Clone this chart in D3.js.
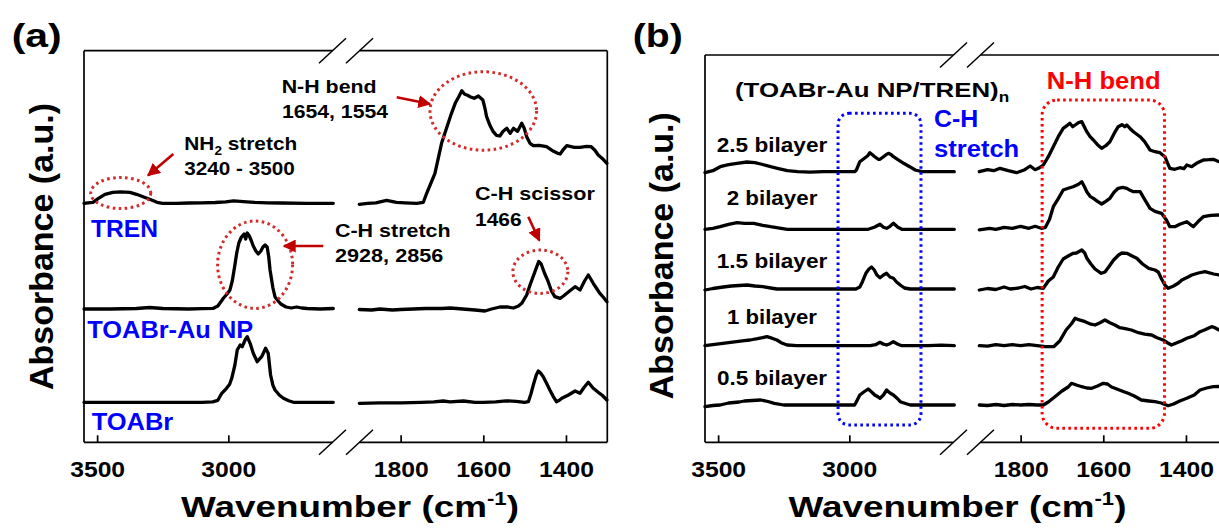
<!DOCTYPE html>
<html>
<head>
<meta charset="utf-8">
<script src="https://cdn.jsdelivr.net/npm/d3@7"></script>
<style>
  html, body { margin: 0; padding: 0; background: #fff; }
  svg { display: block; }
  text { font-family: "Liberation Sans", Arial, sans-serif; font-weight: bold; }
</style>
</head>
<body>
<svg id="chart" width="1219" height="529"></svg>
<script>
// ---------- data: FTIR spectra, [wavenumber (cm-1), absorbance (a.u.)] ----------
// Two wavenumber windows: 3550-2600 and 1900-1300 cm-1 (axis break in between).
const ticksHigh = [3500, 3000];
const ticksLow = [1800, 1600, 1400];

// Panel (a): reference spectra
const specNames = ["TREN", "TOABr-Au NP", "TOABr"];
const specOffsets = [239, 133.3, 40];
const trenSpec = [
  [3550,0],[3535,0.5],[3516,1],[3495,5],[3470,9],[3440,11],[3410,11.5],[3375,11],[3350,9],[3320,6],[3290,3],[3272,1],[3250,0],[3200,0],[3150,0.3],[3100,0.5],[3050,0.8],[3010,1.5],[2980,2.5],[2955,2],[2930,1.5],[2900,1],[2850,0.5],[2800,0.3],[2700,0],[2600,0],
  [1900,-1],[1880,0],[1860,0.5],[1834,3],[1810,1],[1790,0.5],[1761,0],[1745,1],[1737,10],[1727,20],[1717,30],[1709,45],[1701,60],[1693,70],[1685,80],[1677,90],[1668,100],[1660,106],[1652,112.6],[1645,109],[1638,108],[1632,106.6],[1622,105],[1612,107.3],[1601,103.3],[1596,95],[1592,86.6],[1584,78],[1576,71.6],[1568,68],[1560,67.3],[1552,72],[1543,75],[1535,70],[1527,75],[1517,72],[1507,80],[1501,75],[1495,66.6],[1487,60],[1479,57.6],[1465,58],[1447,56.6],[1430,52],[1420,50],[1414,49.3],[1406,54],[1398,57.6],[1380,56],[1366,56],[1350,57],[1339,56.6],[1330,53],[1322,48.3],[1310,44],[1301,40]
];
const npSpec = [
  [3550,0],[3450,0],[3350,0.5],[3300,1.5],[3250,0.5],[3150,0],[3100,0.3],[3057,0.7],[3040,3],[3019,10.7],[3005,15],[2994,19],[2985,28],[2975,44],[2968,56],[2960,66],[2950,72],[2940,75],[2934,70],[2928,76],[2920,73],[2912,68],[2905,63],[2895,58],[2886,55],[2876,58],[2868,62],[2860,64],[2852,62],[2846,52],[2841,39],[2830,21],[2822,12],[2810,8],[2800,5],[2780,2],[2760,1],[2740,2],[2720,1],[2700,0.5],[2650,0],[2600,0.5],
  [1900,-0.5],[1870,-1],[1850,0],[1820,-1],[1800,-0.5],[1770,0],[1740,0.5],[1700,0.5],[1680,1],[1650,0],[1620,-1],[1596,-2],[1580,0],[1560,2],[1540,2],[1527,1],[1515,3],[1507,5.7],[1495,14],[1487,24],[1475,37.3],[1466,47.5],[1460,45],[1452,36],[1443,27.3],[1435,18],[1427,12.3],[1414,10.7],[1406,13],[1398,15.7],[1385,20],[1378,22.3],[1366,19],[1355,28],[1346,34],[1340,30],[1334,25.7],[1325,20],[1318,15.7],[1310,12],[1301,7.3]
];
const toabrSpec = [
  [3550,0],[3300,0],[3100,0],[3060,0.5],[3040,2],[3025,9],[3007,14],[2995,18],[2987,24],[2975,37.3],[2966,52.3],[2955,57.3],[2947,55.6],[2936,62.3],[2928,65.6],[2917,59],[2905,49],[2890,40.6],[2873,45.6],[2858,54],[2848,49],[2839,27.3],[2830,17],[2822,12.3],[2805,7],[2790,4],[2770,1.5],[2752,0],[2650,0],[2600,0],
  [1900,-1],[1850,-0.5],[1800,-0.5],[1750,0],[1720,0.5],[1697,1.3],[1680,0.5],[1648,1.3],[1620,0],[1600,0],[1570,0.5],[1545,1.5],[1520,1],[1500,0],[1491,0.6],[1485,8],[1479,17.3],[1472,27],[1467,31.3],[1461,29],[1455,25.6],[1447,19],[1439,12.3],[1431,6],[1423,0.6],[1416,2],[1410,4],[1394,7.3],[1378,11.3],[1366,9],[1356,15],[1346,20],[1340,17],[1334,14],[1322,10],[1313,7.3],[1301,2.3]
];

// Panel (b): (TOABr-Au NP/TREN)n multilayers
const layerNames = ["2.5 bilayer", "2 bilayer", "1.5 bilayer", "1 bilayer", "0.5 bilayer"];
const layerOffsets = [270.6, 213, 153.3, 96.6, 37.3];
const bl25 = [
  [3550,-1],[3520,1],[3492,5],[3460,7],[3428,8.4],[3390,9.7],[3360,9],[3338,7.7],[3300,5],[3274,3.4],[3236,1],[3197,0],[3150,-0.5],[3100,0],[3050,0],[3000,0],[2980,0],[2973,1.7],[2960,10],[2945,13],[2930,16],[2922,19],[2912,17],[2903,15],[2890,12.4],[2883,12.4],[2870,15],[2860,17],[2851,18.4],[2840,17],[2832,15],[2815,12],[2793,8.4],[2770,5],[2749,1.7],[2723,0],[2650,0],[2600,0],
  [1900,0],[1880,2],[1865,1],[1850,3.4],[1830,1],[1810,-1],[1790,2],[1777,5.7],[1765,2],[1757,3.4],[1745,6.7],[1733,15],[1721,25],[1709,35],[1697,43.4],[1688,46],[1681,48.4],[1674,45],[1668,46.7],[1660,49],[1652,50],[1646,45],[1640,40],[1632,35],[1624,31.7],[1614,27],[1604,23.4],[1594,26],[1584,30],[1574,38],[1564,45],[1555,47],[1548,45],[1543,46.7],[1535,43],[1527,40],[1511,35],[1500,30],[1487,21.7],[1475,20],[1463,19],[1451,15],[1445,9],[1439,3.4],[1427,2.4],[1415,4],[1405,3],[1398,6.7],[1386,5],[1372,9],[1358,11.7],[1345,12],[1334,12.4],[1320,10],[1300,10]
];
const bl20 = [
  [3550,0],[3520,1],[3492,2.6],[3460,5],[3428,6.6],[3400,6],[3364,6],[3330,4],[3300,2.6],[3260,1],[3236,0],[3150,0],[3050,0],[2950,0],[2928,0],[2905,2],[2883,5],[2870,2],[2858,1],[2845,3],[2832,6],[2815,2],[2800,0],[2700,0],[2600,0],
  [1900,-0.5],[1875,1],[1860,0],[1840,2],[1820,1],[1800,3],[1780,1],[1765,3],[1750,1],[1740,2],[1730,10],[1721,22.6],[1710,30],[1697,39.3],[1685,41],[1673,42.6],[1660,45],[1652,47.6],[1645,42],[1640,37.6],[1632,33],[1624,31],[1614,28],[1604,25.3],[1594,28],[1584,31],[1574,37],[1564,41],[1553,42],[1543,41],[1535,39],[1527,37.6],[1511,37.6],[1500,30],[1487,21],[1475,18],[1459,16],[1447,9],[1439,2.6],[1427,2.6],[1415,5],[1398,7.6],[1390,5],[1382,2.6],[1370,8],[1358,12.6],[1340,14],[1320,14.3],[1300,14]
];
const bl15 = [
  [3550,-1],[3520,0.5],[3480,2],[3450,3],[3420,3.5],[3390,4],[3360,3],[3330,2.3],[3300,1],[3276,0],[3200,0],[3100,0],[3000,0],[2975,0],[2960,2],[2950,7.3],[2937,15.7],[2925,20],[2915,22],[2905,19],[2895,14],[2883,11.3],[2870,14],[2858,15.7],[2845,12],[2832,10.7],[2820,7],[2806,4],[2790,1],[2768,0],[2700,0],[2600,0],
  [1900,-1],[1880,0.5],[1860,-0.5],[1840,2],[1825,0],[1805,1],[1790,2.5],[1775,0],[1760,1.5],[1745,0.7],[1733,8],[1721,12],[1709,22],[1697,30],[1685,33],[1673,35.7],[1665,36],[1652,39],[1645,36],[1640,31],[1630,25],[1620,20],[1605,15.7],[1596,17],[1587,22],[1575,29],[1563,34],[1555,36],[1543,35.7],[1535,34],[1519,30.7],[1505,25],[1490,20.7],[1475,19],[1467,17],[1459,10],[1451,4],[1443,0.7],[1430,3],[1418,6],[1410,9],[1395,12],[1386,14],[1370,16],[1354,17.3],[1333,15],[1320,14],[1300,14]
];
const bl10 = [
  [3550,0],[3520,1],[3490,2],[3460,3],[3430,4],[3400,5],[3378,5.7],[3350,7],[3314,9],[3295,7.5],[3276,5.7],[3260,3],[3237,0.7],[3200,0],[3100,0],[3000,0],[2950,0],[2920,0],[2900,1],[2883,3.4],[2870,1.5],[2858,0.7],[2845,2],[2832,4],[2815,1.5],[2800,0],[2700,0],[2650,0.5],[2600,0],
  [1900,0],[1880,-0.5],[1860,1],[1840,0],[1820,1],[1800,0],[1780,1],[1760,0],[1740,-1],[1720,-1],[1705,5],[1690,15.7],[1677,22],[1668,27.4],[1660,26],[1644,24],[1630,21.5],[1620,20.7],[1608,23],[1596,25.7],[1584,23],[1572,20.7],[1560,18],[1547,17],[1532,15.7],[1515,13],[1500,11.5],[1483,10.7],[1470,8],[1455,5.7],[1445,3],[1435,0.7],[1422,3],[1410,5],[1398,7.4],[1380,10],[1366,14],[1354,16],[1338,19],[1330,18],[1320,15.7],[1300,14]
];
const bl05 = [
  [3550,-1.7],[3520,-0.5],[3492,0],[3460,2],[3420,3],[3400,4],[3370,4.5],[3338,5],[3310,3.5],[3286,1.7],[3250,0],[3200,0],[3100,0],[3000,0],[2980,0],[2973,3.3],[2960,10],[2945,13],[2928,16],[2915,13],[2903,10],[2890,8],[2883,6.7],[2870,10],[2858,15],[2845,12],[2832,10],[2815,6],[2806,3.3],[2780,1],[2768,0],[2700,0],[2600,0],
  [1900,0],[1880,-0.5],[1860,0.5],[1840,-0.5],[1820,0.5],[1800,0],[1780,0.5],[1760,0],[1745,0],[1733,3],[1717,8.3],[1700,14],[1685,18],[1677,21.7],[1665,20],[1652,18.3],[1640,17],[1628,16.7],[1614,19],[1600,21.7],[1590,21],[1580,18],[1572,16.7],[1555,14],[1540,11.7],[1525,9],[1508,5],[1490,4],[1475,3.3],[1460,2],[1443,-0.7],[1430,1],[1415,4],[1398,6.7],[1380,10],[1366,15],[1350,17],[1334,18.3],[1320,18.5],[1300,18.5]
];

// ---------- drawing ----------
const svg = d3.select("#chart");
const INK = "#000";
const DARKRED = "#c00000";

// Text whose glyphs are widened horizontally to a given overall width.
function label(g, parts, x, y, size, width, opts = {}) {
  const grp = g.append("g").attr("transform", `translate(${x},${y})`);
  const t = grp.append("text")
    .attr("font-size", size)
    .attr("text-anchor", opts.anchor || "start")
    .attr("fill", opts.color || INK);
  (Array.isArray(parts) ? parts : [{ s: parts }]).forEach(p => {
    const ts = t.append("tspan").text(p.s);
    if (p.size) ts.attr("font-size", p.size);
    if (p.dy) ts.attr("dy", p.dy);
  });
  if (width) {
    const w = t.node().getComputedTextLength();
    t.attr("transform", `scale(${width / w},1)`);
  }
  return grp;
}

function panel(cfg) {
  const g = svg.append("g");
  const xHi = d3.scaleLinear().domain([3550, 2600]).range([cfg.left, cfg.left + 249.3]);
  const xLo = d3.scaleLinear().domain([1900, 1300]).range([cfg.lowStart, cfg.lowStart + 248]);
  const y = d3.scaleLinear().domain([0, cfg.bottom - cfg.top]).range([cfg.bottom, cfg.top]);

  // frame with axis-break marks
  const br1 = cfg.left + 248.5, br2 = cfg.left + 275.5;
  const fr = g.append("g").attr("stroke", INK).attr("stroke-width", 1.7).attr("fill", "none");
  fr.append("line").attr("x1", cfg.left).attr("x2", cfg.left).attr("y1", cfg.top).attr("y2", cfg.bottom);
  fr.append("line").attr("x1", cfg.right).attr("x2", cfg.right).attr("y1", cfg.top).attr("y2", cfg.bottom);
  [cfg.top, cfg.bottom].forEach(yy => {
    fr.append("line").attr("x1", cfg.left).attr("x2", br1).attr("y1", yy).attr("y2", yy);
    fr.append("line").attr("x1", br2).attr("x2", cfg.right).attr("y1", yy).attr("y2", yy);
    [br1, br2].forEach(bx => {
      fr.append("line").attr("x1", bx - 13.5).attr("y1", yy + 12.5).attr("x2", bx + 13.5).attr("y2", yy - 12.5).attr("stroke-width", 1.5);
    });
  });

  // axes (inward ticks, labels below)
  const styleAxis = sel => {
    sel.select(".domain").remove();
    sel.selectAll(".tick line").attr("stroke", INK).attr("stroke-width", 1.7);
    sel.selectAll(".tick text")
      .attr("fill", INK)
      .attr("font-size", 21.5)
      .attr("font-family", "'Liberation Sans', Arial, sans-serif")
      .attr("font-weight", "bold")
      .attr("transform", "scale(1.15,1)");
  };
  g.append("g").attr("transform", `translate(0,${cfg.bottom})`)
    .call(d3.axisBottom(xHi).tickValues(ticksHigh).tickSize(-7).tickPadding(19.5).tickFormat(d3.format("d")))
    .call(styleAxis);
  g.append("g").attr("transform", `translate(0,${cfg.bottom})`)
    .call(d3.axisBottom(xLo).tickValues(ticksLow).tickSize(-7).tickPadding(19.5).tickFormat(d3.format("d")))
    .call(styleAxis);

  // spectra, each split into its two wavenumber windows
  const lineHi = d3.line().x(d => xHi(d[0])).y(d => y(d[1]));
  const lineLo = d3.line().x(d => xLo(d[0])).y(d => y(d[1]));
  cfg.series.forEach((s, i) => {
    const pts = s.map(d => [d[0], d[1] + cfg.offsets[i]]);
    const hi = pts.filter(d => d[0] >= 2600);
    const lo = pts.filter(d => d[0] <= 1900);
    [[hi, lineHi], [lo, lineLo]].forEach(([p, ln]) => {
      g.append("path").attr("d", ln(p)).attr("fill", "none")
        .attr("stroke", INK).attr("stroke-width", 3.3).attr("stroke-linejoin", "round").attr("stroke-linecap", "round");
    });
  });

  // titles
  label(g, [{ s: "Wavenumber (cm" }, { s: "-1", size: 18, dy: -12 }, { s: ")", size: 30, dy: 12 }],
        cfg.xTitle, 516.7, 30, 338, { anchor: "middle" });
  const yt = g.append("g").attr("transform", `translate(${cfg.yTitleX},${cfg.yTitleY}) rotate(-90)`);
  yt.append("text").attr("font-size", 34).attr("text-anchor", "middle").attr("fill", INK).text("Absorbance (a.u.)");
  label(g, cfg.tag, cfg.tagX, 46.7, 34, 50);

  return { g, xHi, xLo, y };
}

// arrowhead marker
svg.append("defs").append("marker")
  .attr("id", "arrow").attr("viewBox", "0 0 10 10").attr("refX", 9).attr("refY", 5)
  .attr("markerWidth", 5).attr("markerHeight", 5).attr("markerUnits", "strokeWidth").attr("orient", "auto")
  .append("path").attr("d", "M0,0 L10,5 L0,10 Z").attr("fill", DARKRED);

// ----- panel (a) -----
const A = panel({
  left: 84, right: 607.3, top: 50.7, bottom: 442.3, lowStart: 359.3,
  series: [trenSpec, npSpec, toabrSpec], offsets: specOffsets,
  xTitle: 350, yTitleX: 52.7, yTitleY: 246.5, tag: "(a)", tagX: 11.7
});

const blue = "#0000ff";
label(A.g, specNames[0], 91, 237, 24, 67, { color: blue });
label(A.g, specNames[1], 87.3, 337.7, 24, 166, { color: blue });
label(A.g, specNames[2], 91.7, 430, 23, 81.6, { color: blue });

label(A.g, [{ s: "NH" }, { s: "2", size: 12, dy: 5 }, { s: " stretch", dy: -5 }], 184.3, 150, 18.5, 113);
label(A.g, "3240 - 3500", 184.3, 175, 18.5, 110.7);
label(A.g, "N-H bend", 281.7, 92.7, 18.5, 95);
label(A.g, "1654, 1554", 282, 118.3, 18.5, 106);
label(A.g, "C-H stretch", 335, 236.7, 18.5, 115.7);
label(A.g, "2928, 2856", 335, 262, 18.5, 108.3);
label(A.g, "C-H scissor", 475, 200, 18.5, 120);
label(A.g, "1466", 475, 225.7, 18.5, 46.7);

const dotRed = "#d42a2a";
const ell = (cx, cy, rx, ry) => A.g.append("ellipse")
  .attr("cx", cx).attr("cy", cy).attr("rx", rx).attr("ry", ry)
  .attr("fill", "none").attr("stroke", dotRed).attr("stroke-width", 3).attr("stroke-dasharray", "2.6 3.4");
ell(A.xHi(3410), 193, 30, 15.5);
ell(A.xLo(1600), 111, 53.3, 39.2);
ell(A.xHi(2898), 264.7, 37.5, 43.7);
ell(A.xLo(1462), 271.7, 27.5, 21.7);

const arrow = (x1, y1, x2, y2) => A.g.append("line")
  .attr("x1", x1).attr("y1", y1).attr("x2", x2).attr("y2", y2)
  .attr("stroke", DARKRED).attr("stroke-width", 2.6).attr("marker-end", "url(#arrow)");
arrow(173.3, 154, 148, 175.5);
arrow(396.7, 97.3, 430, 104);
arrow(323.3, 246, 284, 246);
arrow(528.3, 216.7, 539.3, 240.5);

// ----- panel (b) -----
const B = panel({
  left: 705, right: 1227.3, top: 55, bottom: 442.3, lowStart: 979.3,
  series: [bl25, bl20, bl15, bl10, bl05], offsets: layerOffsets,
  xTitle: 957.5, yTitleX: 672.6, yTitleY: 255.7, tag: "(b)", tagX: 632.7
});

const layerLabelGap = [20, 24.3, 21, 21.4, 20];
layerNames.forEach((nm, i) => {
  const widths = [110.6, 90.7, 110.6, 90, 110];
  label(B.g, nm, 772, B.y(layerOffsets[i]) - layerLabelGap[i], 21, widths[i], { anchor: "middle" });
});

label(B.g, [{ s: "(TOABr-Au NP/TREN)" }, { s: "n", size: 14, dy: 5 }], 735, 96.7, 21, 274.3);
label(B.g, "C-H", 934, 126.7, 23.5, 44.3, { color: blue });
label(B.g, "stretch", 934, 156.7, 23.5, 85.3, { color: blue });
label(B.g, "N-H bend", 1046.7, 89.3, 24.5, 114, { color: "#ff0000" });

B.g.append("rect")
  .attr("x", B.xHi(3043)).attr("y", 113.3).attr("width", B.xHi(2727) - B.xHi(3043)).attr("height", 425 - 113.3)
  .attr("rx", 11).attr("fill", "none").attr("stroke", blue).attr("stroke-width", 3).attr("stroke-dasharray", "2.6 3.4");
B.g.append("rect")
  .attr("x", B.xLo(1748)).attr("y", 100).attr("width", B.xLo(1452) - B.xLo(1748)).attr("height", 428.3 - 100)
  .attr("rx", 15).attr("fill", "none").attr("stroke", "#ff0000").attr("stroke-width", 3).attr("stroke-dasharray", "2.6 3.4");
</script>
</body>
</html>
